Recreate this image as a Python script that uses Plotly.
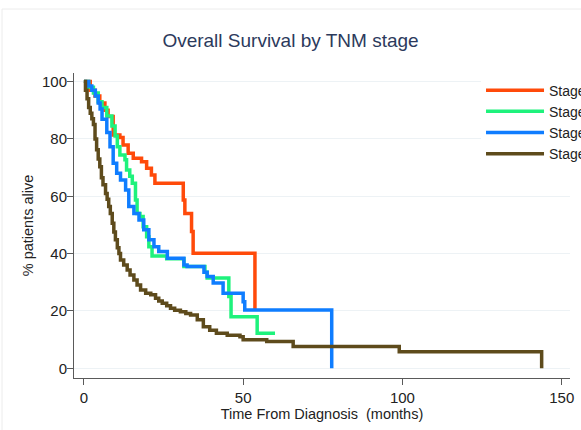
import plotly.graph_objects as go

# Kaplan-Meier estimates (% alive) at each step, by TNM stage
stage1_t = [0, 2, 3.5, 5, 6.6, 7.6, 9.2, 11.3, 12.3, 13.9, 15.5, 18.1, 19.7, 21.2, 22.3,
            31.2, 31.7, 33.8, 34.3, 53.7]
stage1_s = [100, 97, 95, 92.5, 90, 87.8, 81.4, 80.5, 77.9, 75, 73.3, 72, 69.8, 67.4, 64.5,
            58.7, 54, 47.7, 40.1, 20.3]

stage2_t = [0, 1.5, 3, 4.5, 5.7, 7.2, 8.8, 9.8, 10.5, 11.3, 12.9, 13.4, 14.4, 15.2, 16.2,
            16.7, 17.6, 18.6, 19.7, 20.4, 21.4, 26, 31.4, 38, 38.7, 45.5, 46.2, 54.4, 60]
stage2_s = [100, 98, 96, 93, 91, 88, 84.5, 81, 77.3, 74.4, 72.7, 69.2, 67, 64.5, 58.7,
            54, 52.9, 49.4, 45.9, 42.4, 39.2, 38.2, 35.5, 33.5, 31.5, 25, 18, 12.2, 12.2]

stage3_t = [0, 1.5, 2.5, 3.6, 4.5, 5.1, 5.7, 7.2, 8.2, 9.2, 10.3, 11.5, 13.1, 14.1, 15.7,
            17.3, 18.8, 20.4, 22, 23.5, 26.2, 31.4, 32.4, 37.7, 38.7, 40.6, 43.7, 50,
            50.5, 77.8]
stage3_s = [100, 98.5, 97, 95, 92.5, 90.4, 86.9, 82.2, 77.3, 71.5, 68, 65.7, 62.2, 56.4, 54,
            51.7, 48.3, 44.8, 42.4, 40.7, 38.4, 36, 35.5, 33.5, 32, 29.7, 26.2, 23.2,
            20.3, 0]

stage4_t = [0, 0.5, 1, 1.5, 2, 2.5, 3, 3.5, 4, 4.5, 5, 5.5, 6, 6.8, 7.3, 7.8, 8.3, 8.9,
            9.4, 9.9, 10.5, 11, 11.5, 12.5, 13.6, 14.5, 15.7, 16.7, 17.8, 19.4, 21, 22.5,
            23.5, 24.6, 26, 27.2, 28.5, 30.3, 32, 33.5, 35.6, 37.5, 39.5, 41.6, 45, 49,
            50, 57.4, 65.7, 99, 143.7]
stage4_s = [100, 97, 94, 91, 89, 87, 85, 80, 76.2, 73, 70.3, 66.5, 64, 61, 59, 56.4, 54,
            50.6, 47.5, 44.8, 42, 40, 37.8, 36, 34.3, 32.5, 30.8, 29, 27.3, 26.2, 25.6,
            24.4, 23.5, 22.7, 21.8, 20.9, 20.2, 19.7, 19.1, 18.6, 16.9, 14.5, 13.3, 12.2,
            11.5, 11, 9.9, 9.3, 7.6, 5.8, 0]

stage_names = ["Stage I", "Stage II", "Stage III", "Stage IV"]
stage_colors = ["#ff4a0a", "#1ef27c", "#0f7dff", "#5e4b1c"]

x_ticks = [0, 50, 100, 150]
y_ticks = [0, 20, 40, 60, 80, 100]

FONT = "Liberation Sans, Arial, sans-serif"

fig = go.Figure()
for name, t, s, c in zip(stage_names,
                         [stage1_t, stage2_t, stage3_t, stage4_t],
                         [stage1_s, stage2_s, stage3_s, stage4_s],
                         stage_colors):
    fig.add_trace(go.Scatter(x=t, y=s, name=name, mode="lines",
                             line=dict(color=c, width=3.5, shape="hv")))

axis_common = dict(
    showline=True, linecolor="#5a5a5a", linewidth=1,
    ticks="outside", ticklen=6, tickcolor="#5a5a5a",
    tickfont=dict(family=FONT, size=15, color="#222"),
    zeroline=False,
)

fig.update_layout(
    width=581, height=430,
    margin=dict(l=74, r=11, t=73, b=52, autoexpand=False),
    paper_bgcolor="white", plot_bgcolor="white",
    title=dict(text="Overall Survival by TNM stage", x=0.5, xref="container",
               y=1 - 40 / 430, yref="container", yanchor="middle",
               font=dict(family=FONT, size=19, color="#2c3a5c")),
    xaxis=dict(range=[-3.1, 152.6], tickvals=x_ticks, showgrid=False,
               title=dict(text="Time From Diagnosis  (months)", standoff=2,
                          font=dict(family=FONT, size=14.5, color="#222")),
               **axis_common),
    yaxis=dict(range=[-3.4, 103], tickvals=y_ticks, showgrid=True,
               gridcolor="#edf2f5", gridwidth=1, ticklabelstandoff=-3,
               title=dict(text="% patients alive", standoff=4,
                          font=dict(family=FONT, size=14.5, color="#222")),
               **axis_common),
    legend=dict(x=0.8206, xanchor="left", y=0.995, yanchor="top",
                bgcolor="white", borderwidth=0, itemwidth=58,
                font=dict(family=FONT, size=14, color="#222"),
                tracegroupgap=0),
    shapes=[dict(type="rect", xref="paper", yref="paper",
                 x0=(2 - 74) / 496, x1=1.2, y0=-0.5, y1=(378 - 9) / 305,
                 line=dict(color="#ececec", width=1), layer="below")],
)

fig.write_html("out.html")
